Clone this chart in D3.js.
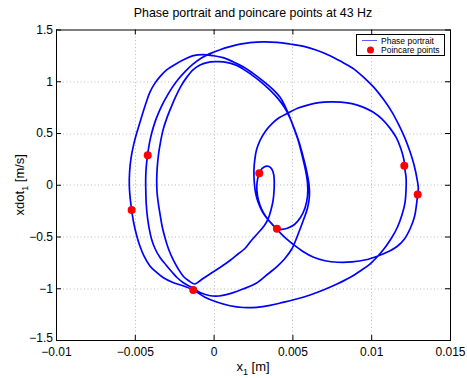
<!DOCTYPE html>
<html>
<head>
<meta charset="utf-8">
<title>Phase portrait</title>
<script src="https://cdn.jsdelivr.net/npm/d3@7"></script>
<style>
body { margin: 0; background: #fff; }
text { font-family: "Liberation Sans", Arial, Helvetica, sans-serif; }
</style>
</head>
<body>
<script>
// phase portrait, in trajectory order (closed orbit)
var trajX = [
 -0.00129,-0.00181,-0.00258,-0.00321,-0.00372,-0.00404,-0.00442,-0.00470,-0.00489,-0.00508,
 -0.00520,-0.00530,-0.00535,-0.00533,-0.00524,-0.00508,-0.00488,-0.00457,-0.00429,-0.00404,
 -0.00372,-0.00340,-0.00296,-0.00234,-0.00181,-0.00129,-0.00067,-0.00004,0.00060,0.00123,
 0.00187,0.00244,0.00307,0.00371,0.00421,0.00453,0.00478,0.00507,0.00536,0.00561,
 0.00583,0.00596,0.00596,0.00580,0.00551,0.00513,0.00472,0.00431,0.00402,0.00379,
 0.00348,0.00317,0.00294,0.00279,0.00274,0.00279,0.00290,0.00307,0.00329,0.00352,
 0.00371,0.00382,0.00385,0.00383,0.00377,0.00364,0.00348,0.00320,0.00282,0.00237,
 0.00199,0.00155,0.00104,0.00041,-0.00023,-0.00080,-0.00118,-0.00156,-0.00191,-0.00226,
 -0.00256,-0.00286,-0.00308,-0.00327,-0.00340,-0.00351,-0.00359,-0.00361,-0.00358,-0.00350,
 -0.00337,-0.00321,-0.00299,-0.00273,-0.00242,-0.00207,-0.00172,-0.00129,-0.00086,-0.00042,
 0.00009,0.00062,0.00104,0.00147,0.00187,0.00231,0.00294,0.00358,0.00409,0.00450,
 0.00482,0.00513,0.00542,0.00567,0.00589,0.00605,0.00608,0.00596,0.00570,0.00539,
 0.00496,0.00450,0.00402,0.00345,0.00273,0.00187,0.00110,0.00034,-0.00029,-0.00086,
 -0.00131,-0.00162,-0.00194,-0.00229,-0.00264,-0.00302,-0.00340,-0.00372,-0.00394,-0.00408,
 -0.00419,-0.00427,-0.00430,-0.00431,-0.00428,-0.00419,-0.00407,-0.00391,-0.00372,-0.00350,
 -0.00327,-0.00296,-0.00261,-0.00223,-0.00181,-0.00131,-0.00080,-0.00023,0.00041,0.00104,
 0.00168,0.00231,0.00313,0.00402,0.00485,0.00567,0.00650,0.00739,0.00815,0.00891,
 0.00961,0.01024,0.01081,0.01132,0.01176,0.01214,0.01246,0.01272,0.01291,0.01299,
 0.01295,0.01287,0.01275,0.01249,0.01211,0.01164,0.01110,0.01043,0.00967,0.00878,
 0.00789,0.00707,0.00631,0.00567,0.00510,0.00459,0.00415,0.00377,0.00339,0.00307,
 0.00282,0.00266,0.00258,0.00256,0.00261,0.00272,0.00294,0.00329,0.00371,0.00418,
 0.00474,0.00536,0.00602,0.00669,0.00739,0.00808,0.00878,0.00948,0.01011,0.01069,
 0.01119,0.01161,0.01189,0.01208,0.01210,0.01221,0.01221,0.01214,0.01195,0.01167,
 0.01129,0.01088,0.01043,0.00992,0.00935,0.00865,0.00783,0.00696,0.00612,0.00527,
 0.00440,0.00358,0.00273,0.00187,0.00104,0.00020,-0.00055
];
var trajY = [
 -1.017,-0.983,-0.944,-0.896,-0.833,-0.785,-0.688,-0.582,-0.486,-0.360,
 -0.244,-0.119,-0.003,0.123,0.258,0.383,0.499,0.654,0.789,0.895,
 0.982,1.045,1.112,1.172,1.214,1.247,1.257,1.247,1.228,1.189,
 1.141,1.083,1.011,0.929,0.847,0.760,0.673,0.557,0.432,0.287,
 0.142,0.016,-0.109,-0.225,-0.317,-0.384,-0.418,-0.431,-0.425,-0.394,
 -0.341,-0.273,-0.196,-0.109,-0.022,0.055,0.110,0.156,0.178,0.176,
 0.147,0.094,0.016,-0.070,-0.157,-0.244,-0.322,-0.399,-0.466,-0.544,
 -0.616,-0.669,-0.732,-0.799,-0.862,-0.920,-0.959,-0.930,-0.886,-0.809,
 -0.727,-0.621,-0.515,-0.399,-0.283,-0.177,-0.070,0.045,0.161,0.287,
 0.412,0.528,0.634,0.736,0.847,0.953,1.035,1.112,1.156,1.180,
 1.189,1.188,1.175,1.153,1.117,1.074,1.001,0.914,0.832,0.745,
 0.654,0.538,0.412,0.277,0.142,0.007,-0.109,-0.225,-0.341,-0.466,
 -0.621,-0.717,-0.790,-0.862,-0.949,-1.007,-1.050,-1.075,-1.070,-1.041,
 -0.997,-0.973,-0.944,-0.901,-0.843,-0.775,-0.703,-0.616,-0.524,-0.428,
 -0.322,-0.196,-0.070,0.045,0.161,0.287,0.403,0.509,0.605,0.692,
 0.770,0.856,0.943,1.021,1.093,1.165,1.223,1.267,1.305,1.334,
 1.358,1.373,1.381,1.376,1.360,1.339,1.302,1.247,1.185,1.117,
 1.025,0.929,0.818,0.702,0.576,0.451,0.321,0.190,0.055,-0.032,
 -0.093,-0.196,-0.307,-0.418,-0.524,-0.597,-0.645,-0.688,-0.725,-0.746,
 -0.749,-0.734,-0.698,-0.645,-0.582,-0.519,-0.452,-0.389,-0.326,-0.254,
 -0.167,-0.075,0.026,0.142,0.238,0.335,0.427,0.518,0.591,0.649,
 0.694,0.741,0.772,0.794,0.801,0.798,0.784,0.750,0.702,0.634,
 0.547,0.451,0.345,0.238,0.183,0.074,-0.051,-0.177,-0.293,-0.408,
 -0.515,-0.606,-0.688,-0.766,-0.828,-0.896,-0.959,-1.017,-1.065,-1.104,
 -1.137,-1.166,-1.184,-1.186,-1.169,-1.133,-1.086
];

// poincare points
var poincareX = [-0.00520, -0.00418, -0.00129, 0.00290, 0.00402, 0.01210, 0.01295];
var poincareY = [-0.244, 0.286, -1.017, 0.110, -0.425, 0.183, -0.093];

var xTicks = [-0.01, -0.005, 0, 0.005, 0.01, 0.015];
var xTickLabels = ["\u22120.01", "\u22120.005", "0", "0.005", "0.01", "0.015"];
var yTicks = [-1.5, -1, -0.5, 0, 0.5, 1, 1.5];
var yTickLabels = ["\u22121.5", "\u22121", "\u22120.5", "0", "0.5", "1", "1.5"];

var width = 467, height = 378;
var margin = {top: 29.5, right: 17, bottom: 38, left: 56};
var w = width - margin.left - margin.right;
var h = height - margin.top - margin.bottom;

var x = d3.scaleLinear().domain([-0.01, 0.015]).range([0, w]);
var y = d3.scaleLinear().domain([-1.5, 1.5]).range([h, 0]);

var svg = d3.select("body").append("svg")
    .attr("width", width)
    .attr("height", height)
    .style("display", "block");

svg.append("rect").attr("width", width).attr("height", height).attr("fill", "#fff");

var g = svg.append("g")
    .attr("transform", "translate(" + margin.left + "," + margin.top + ")");

// dotted grid
g.selectAll("line.gx")
    .data(xTicks.slice(1, -1))
    .enter().append("line")
    .attr("class", "gx")
    .attr("x1", function(d) { return Math.round(x(d)) + 0.5; })
    .attr("x2", function(d) { return Math.round(x(d)) + 0.5; })
    .attr("y1", 0).attr("y2", h)
    .style("stroke", "#aaa")
    .style("stroke-width", 0.8)
    .style("stroke-dasharray", "1,2.5");
g.selectAll("line.gy")
    .data(yTicks.slice(1, -1))
    .enter().append("line")
    .attr("class", "gy")
    .attr("y1", function(d) { return Math.round(y(d)) + 0.5; })
    .attr("y2", function(d) { return Math.round(y(d)) + 0.5; })
    .attr("x1", 0).attr("x2", w)
    .style("stroke", "#aaa")
    .style("stroke-width", 0.8)
    .style("stroke-dasharray", "1,2.5");

// phase portrait
var pts = trajX.map(function(d, i) { return [d, trajY[i]]; });
var line = d3.line()
    .x(function(d) { return x(d[0]); })
    .y(function(d) { return y(d[1]); })
    .curve(d3.curveCatmullRomClosed.alpha(0.5));

g.append("path")
    .datum(pts)
    .attr("d", line)
    .attr("fill", "none")
    .style("stroke", "#0000ff")
    .style("stroke-width", 1.7)
    .style("stroke-linejoin", "round");

// poincare points
g.selectAll("circle.pp")
    .data(poincareX)
    .enter().append("circle")
    .attr("class", "pp")
    .attr("cx", function(d) { return x(d); })
    .attr("cy", function(d, i) { return y(poincareY[i]); })
    .attr("r", 4)
    .attr("fill", "#ff0000");

// axes, ticks inside on all four sides
function styleAxis(sel) {
    sel.select(".domain").remove();
    sel.attr("font-size", 12)
       .attr("font-family", "'Liberation Sans', Arial, Helvetica, sans-serif");
    sel.selectAll(".tick line").style("stroke", "#000");
    sel.selectAll(".tick text").style("fill", "#000");
}

g.append("g")
    .attr("transform", "translate(0," + h + ")")
    .call(d3.axisBottom(x).tickValues(xTicks)
        .tickFormat(function(d, i) { return xTickLabels[i]; })
        .tickSize(-5).tickPadding(7))
    .call(styleAxis);
g.append("g")
    .call(d3.axisTop(x).tickValues(xTicks).tickFormat("").tickSize(-5))
    .call(styleAxis);
g.append("g")
    .call(d3.axisLeft(y).tickValues(yTicks)
        .tickFormat(function(d, i) { return yTickLabels[i]; })
        .tickSize(-5).tickPadding(3))
    .call(styleAxis)
    .call(function(sel) {
        // lowest label sits just above the x labels
        sel.selectAll(".tick text").filter(function(d) { return d === -1.5; })
            .attr("dy", "0.12em");
    });
g.append("g")
    .attr("transform", "translate(" + w + ",0)")
    .call(d3.axisRight(y).tickValues(yTicks).tickFormat("").tickSize(-5))
    .call(styleAxis);

g.append("rect")
    .attr("x", 0.5).attr("y", 0.5)
    .attr("width", w).attr("height", h)
    .attr("fill", "none")
    .style("stroke", "#000")
    .style("stroke-width", 1);

// title and labels
svg.append("text")
    .attr("x", margin.left + w / 2)
    .attr("y", 17)
    .attr("text-anchor", "middle")
    .attr("font-size", 12.4)
    .text("Phase portrait and poincare points at 43 Hz");

var xl = svg.append("text")
    .attr("x", margin.left + w / 2)
    .attr("y", 371)
    .attr("text-anchor", "middle")
    .attr("font-size", 13);
xl.append("tspan").text("x");
xl.append("tspan").attr("font-size", 9).attr("dy", 4).text("1");
xl.append("tspan").attr("dy", -4).text(" [m]");

var yl = svg.append("text")
    .attr("transform", "translate(24," + (margin.top + h / 2) + ") rotate(-90)")
    .attr("text-anchor", "middle")
    .attr("font-size", 13);
yl.append("tspan").text("xdot");
yl.append("tspan").attr("font-size", 9).attr("dy", 4).text("1");
yl.append("tspan").attr("dy", -4).text(" [m/s]");

// legend
var lg = svg.append("g").attr("transform", "translate(356,34)");
lg.append("rect")
    .attr("x", 0.5).attr("y", 0.5)
    .attr("width", 88).attr("height", 21)
    .attr("fill", "#fff")
    .style("stroke", "#000")
    .style("stroke-width", 1);
lg.append("line")
    .attr("x1", 6).attr("x2", 21)
    .attr("y1", 6.5).attr("y2", 6.5)
    .style("stroke", "#5a5aff")
    .style("stroke-width", 1);
lg.append("text")
    .attr("x", 25).attr("y", 9.5)
    .attr("font-size", 8.5)
    .text("Phase portrait");
lg.append("circle")
    .attr("cx", 14.5).attr("cy", 16)
    .attr("r", 3.5)
    .attr("fill", "#ff0000");
lg.append("text")
    .attr("x", 25).attr("y", 19)
    .attr("font-size", 8.5)
    .text("Poincare points");
</script>
</body>
</html>
